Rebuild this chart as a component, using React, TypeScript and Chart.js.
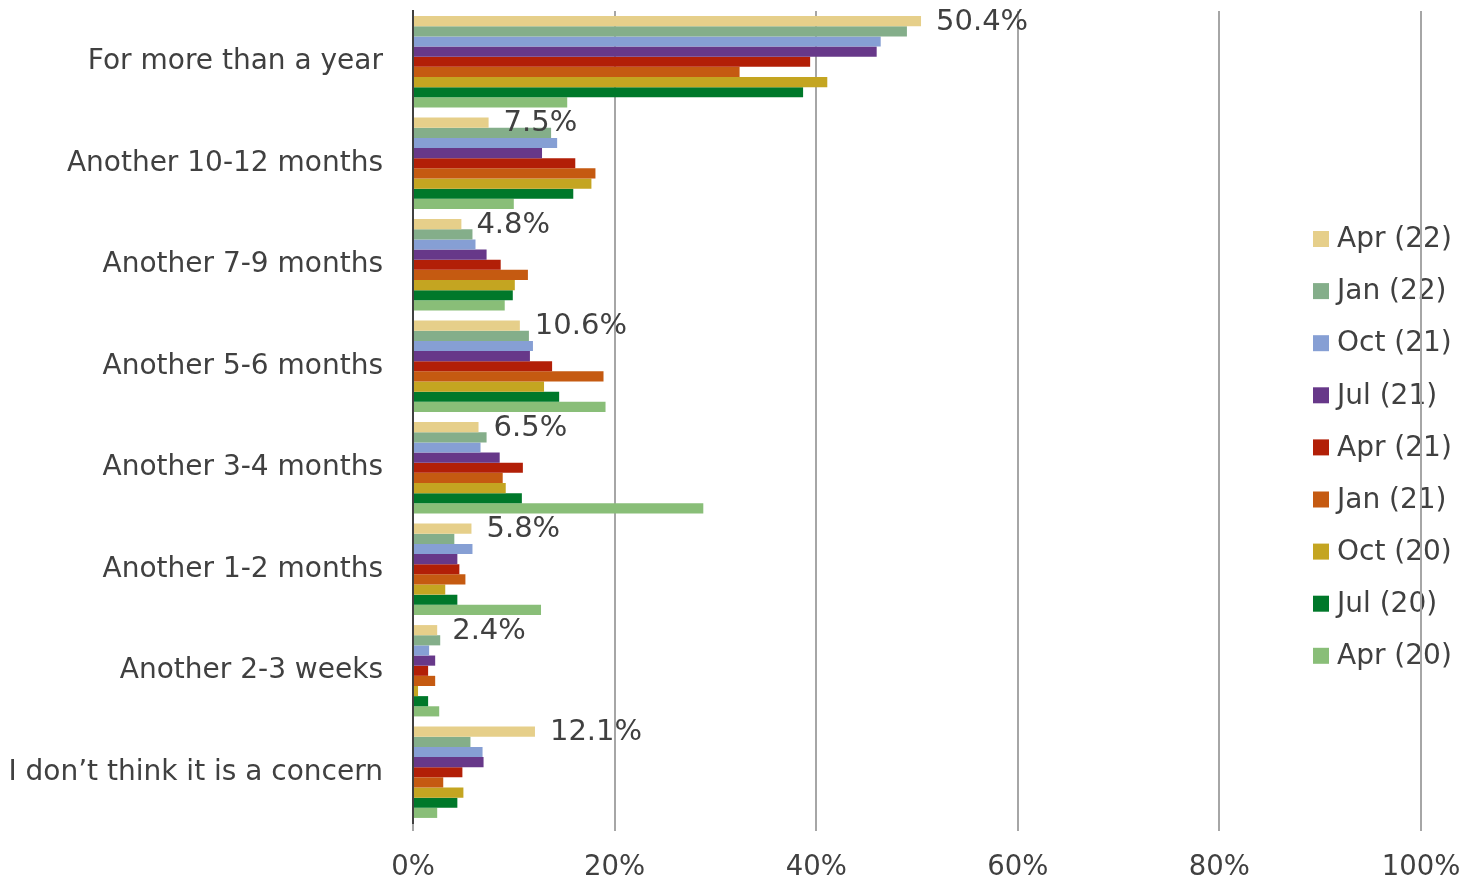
import React, { useEffect, useRef } from "react";
import { Chart, registerables } from "chart.js";

Chart.register(...registerables);

const categories = [
  "For more than a year",
  "Another 10-12 months",
  "Another 7-9 months",
  "Another 5-6 months",
  "Another 3-4 months",
  "Another 1-2 months",
  "Another 2-3 weeks",
  "I don’t think it is a concern",
];

const seriesNames = [
  "Apr (22)",
  "Jan (22)",
  "Oct (21)",
  "Jul (21)",
  "Apr (21)",
  "Jan (21)",
  "Oct (20)",
  "Jul (20)",
  "Apr (20)",
];

const seriesColors = [
  "#E6CF8A",
  "#84AE8A",
  "#869FD4",
  "#673889",
  "#B21F07",
  "#C55A11",
  "#C4A521",
  "#00782A",
  "#89BE78",
];

const apr22 = [50.4, 7.5, 4.8, 10.6, 6.5, 5.8, 2.4, 12.1];
const jan22 = [49.0, 13.7, 5.9, 11.5, 7.3, 4.1, 2.7, 5.7];
const oct21 = [46.4, 14.3, 6.2, 11.9, 6.7, 5.9, 1.6, 6.9];
const jul21 = [46.0, 12.8, 7.3, 11.6, 8.6, 4.4, 2.2, 7.0];
const apr21 = [39.4, 16.1, 8.7, 13.8, 10.9, 4.6, 1.5, 4.9];
const jan21 = [32.4, 18.1, 11.4, 18.9, 8.9, 5.2, 2.2, 3.0];
const oct20 = [41.1, 17.7, 10.1, 13.0, 9.2, 3.2, 0.5, 5.0];
const jul20 = [38.7, 15.9, 9.9, 14.5, 10.8, 4.4, 1.5, 4.4];
const apr20 = [15.3, 10.0, 9.1, 19.1, 28.8, 12.7, 2.6, 2.4];

const seriesValues = [apr22, jan22, oct21, jul21, apr21, jan21, oct20, jul20, apr20];

const xTicks = [0, 20, 40, 60, 80, 100];

const FONT = "'DejaVu Sans', Verdana, sans-serif";
const TEXT = "#404040";

export default function App() {
  const ref = useRef<HTMLCanvasElement | null>(null);

  useEffect(() => {
    const canvas = ref.current;
    if (!canvas) return;

    const labelPlugin = {
      id: "apr22Labels",
      afterDatasetsDraw(chart: any) {
        const meta = chart.getDatasetMeta(0);
        const ctx = chart.ctx;
        ctx.save();
        ctx.font = `29px ${FONT}`;
        ctx.fillStyle = TEXT;
        ctx.textAlign = "left";
        ctx.textBaseline = "middle";
        meta.data.forEach((bar: any, i: number) => {
          ctx.fillText(apr22[i].toFixed(1) + "%", bar.x + 15, bar.y + 1);
        });
        ctx.restore();
      },
    };

    const legendPlugin = {
      id: "sideLegend",
      beforeDraw(chart: any) {
        const ctx = chart.ctx;
        ctx.save();
        ctx.font = `28px ${FONT}`;
        ctx.textAlign = "left";
        ctx.textBaseline = "middle";
        const x0 = 1313;
        const y0 = 239;
        const step = 52.1;
        chart.data.datasets.forEach((ds: any, i: number) => {
          const y = y0 + i * step;
          ctx.fillStyle = ds.backgroundColor;
          ctx.fillRect(x0, y - 8, 16, 16);
          ctx.fillStyle = TEXT;
          ctx.fillText(ds.label, x0 + 24, y + 1);
        });
        ctx.restore();
      },
    };

    const chart = new Chart(canvas, {
      type: "bar",
      data: {
        labels: categories,
        datasets: seriesNames.map((name, i) => ({
          label: name,
          data: seriesValues[i],
          backgroundColor: seriesColors[i],
          borderWidth: 0,
          categoryPercentage: 0.9,
          barPercentage: 1.0,
        })),
      },
      options: {
        indexAxis: "y",
        animation: false,
        responsive: false,
        devicePixelRatio: 1,
        layout: { padding: { left: 0, right: 57, top: 11, bottom: 0 } },
        plugins: {
          legend: { display: false },
          tooltip: { enabled: false },
        },
        scales: {
          x: {
            min: 0,
            max: 100,
            afterBuildTicks: (scale: any) => {
              scale.ticks = xTicks.map((v) => ({ value: v }));
            },
            afterFit: (scale: any) => {
              scale.height = 59;
              scale.paddingLeft = 0;
              scale.paddingRight = 0;
            },
            ticks: {
              callback: (v: any) => v + "%",
              color: TEXT,
              font: { family: FONT, size: 27.5 },
              padding: 20,
              maxRotation: 0,
            },
            grid: {
              color: "#A6A6A6",
              lineWidth: 2,
              drawTicks: true,
              tickLength: 8,
            },
            border: { display: false },
          },
          y: {
            afterFit: (scale: any) => {
              scale.width = 413;
              scale.paddingTop = 0;
              scale.paddingBottom = 0;
            },
            ticks: {
              color: TEXT,
              font: { family: FONT, size: 28 },
              padding: 30,
            },
            grid: { display: false, drawTicks: false },
            border: { display: true, color: "#404040", width: 2 },
          },
        },
      },
      plugins: [labelPlugin, legendPlugin],
    });

    return () => chart.destroy();
  }, []);

  return (
    <div style={{ position: "fixed", left: 0, top: 0, width: 1478, height: 882, background: "#fff" }}>
      <canvas ref={ref} width={1478} height={882} style={{ width: 1478, height: 882, display: "block" }} />
    </div>
  );
}
